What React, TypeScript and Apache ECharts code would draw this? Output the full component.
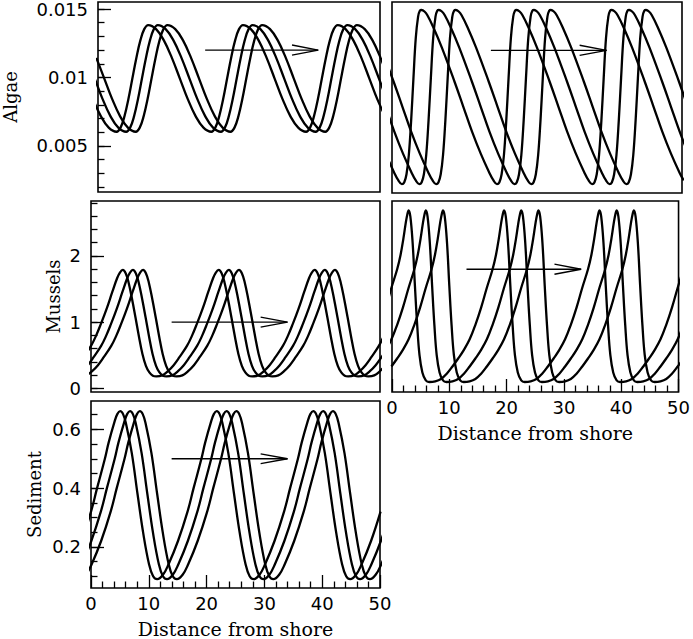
import React, { useEffect, useRef } from "react";
import * as echarts from "echarts";

type Pt = [number, number];

// ---- Leading curve (earliest) of each panel: [distance, value]
const algaeLeft: Pt[] = [
  [-3.7, 0.01143], [-2.3, 0.00994], [-0.9, 0.00844], [0.5, 0.00718], [1.9, 0.00634], [3.3, 0.00604],
  [4.0, 0.00634], [4.7, 0.00718], [5.4, 0.00844], [6.1, 0.00994], [6.8, 0.01143], [7.5, 0.01269], [8.2, 0.01353], [8.9, 0.01383],
  [10.3, 0.01353], [11.7, 0.01269], [13.1, 0.01143], [14.5, 0.00994], [15.9, 0.00844], [17.3, 0.00718], [18.7, 0.00634], [20.1, 0.00604],
  [20.8, 0.00634], [21.5, 0.00718], [22.2, 0.00844], [22.9, 0.00994], [23.6, 0.01143], [24.3, 0.01269], [25.0, 0.01353], [25.7, 0.01383],
  [27.1, 0.01353], [28.5, 0.01269], [29.9, 0.01143], [31.3, 0.00994], [32.7, 0.00844], [34.1, 0.00718], [35.5, 0.00634], [36.9, 0.00604],
  [37.6, 0.00634], [38.3, 0.00718], [39.0, 0.00844], [39.7, 0.00994], [40.4, 0.01143], [41.1, 0.01269], [41.8, 0.01353], [42.5, 0.01383],
  [43.9, 0.01353], [45.3, 0.01269], [46.7, 0.01143], [48.1, 0.00994], [49.5, 0.00844], [50.9, 0.00718],
];
const algaeLeftShifts = [0, 1.7, 3.4];

const algaeRight: Pt[] = [
  [-7.8, 0.0122], [-5.6, 0.0097], [-4.1, 0.0079], [-2.6, 0.0061], [-1.1, 0.0045], [0.4, 0.0031], [1.1, 0.00255], [1.7, 0.00228],
  [2.1, 0.0024], [2.5, 0.003], [2.9, 0.0044], [3.3, 0.0069], [3.7, 0.01], [4.1, 0.0129], [4.5, 0.01445], [4.8, 0.01487], [5.1, 0.01493],
  [5.6, 0.01482], [6.1, 0.01455], [7.1, 0.0137], [8.6, 0.0122], [10.8, 0.0097], [12.3, 0.0079], [13.8, 0.0061], [15.3, 0.0045], [16.8, 0.0031], [17.5, 0.00255], [18.1, 0.00228],
  [18.5, 0.0024], [18.9, 0.003], [19.3, 0.0044], [19.7, 0.0069], [20.1, 0.01], [20.5, 0.0129], [20.9, 0.01445], [21.2, 0.01487], [21.5, 0.01493],
  [22.0, 0.01482], [22.5, 0.01455], [23.5, 0.0137], [25.0, 0.0122], [27.2, 0.0097], [28.7, 0.0079], [30.2, 0.0061], [31.7, 0.0045], [33.2, 0.0031], [33.9, 0.00255], [34.5, 0.00228],
  [34.9, 0.0024], [35.3, 0.003], [35.7, 0.0044], [36.1, 0.0069], [36.5, 0.01], [36.9, 0.0129], [37.3, 0.01445], [37.6, 0.01487], [37.9, 0.01493],
  [38.4, 0.01482], [38.9, 0.01455], [39.9, 0.0137], [41.4, 0.0122], [43.6, 0.0097], [45.1, 0.0079], [46.6, 0.0061], [48.1, 0.0045], [49.6, 0.0031], [50.3, 0.00255],
];
const algaeRightShifts = [0, 3.0, 5.9];

const musselsLeft: Pt[] = [
  [-4.3, 0.195], [-3.3, 0.26], [-2.3, 0.35], [-1.3, 0.47], [0.0, 0.64], [0.9, 0.8], [1.7, 0.97], [2.7, 1.2], [3.7, 1.46], [4.5, 1.66], [5.0, 1.75], [5.5, 1.79],
  [6.0, 1.74], [6.5, 1.6], [7.1, 1.35], [7.7, 1.07], [8.3, 0.78], [8.9, 0.52], [9.5, 0.34], [10.1, 0.24], [10.7, 0.19], [11.3, 0.18],
  [12.3, 0.195], [13.3, 0.26], [14.3, 0.35], [15.3, 0.47], [16.6, 0.64], [17.5, 0.8], [18.3, 0.97], [19.3, 1.2], [20.3, 1.46], [21.1, 1.66], [21.6, 1.75], [22.1, 1.79],
  [22.6, 1.74], [23.1, 1.6], [23.7, 1.35], [24.3, 1.07], [24.9, 0.78], [25.5, 0.52], [26.1, 0.34], [26.7, 0.24], [27.3, 0.19], [27.9, 0.18],
  [28.9, 0.195], [29.9, 0.26], [30.9, 0.35], [31.9, 0.47], [33.2, 0.64], [34.1, 0.8], [34.9, 0.97], [35.9, 1.2], [36.9, 1.46], [37.7, 1.66], [38.2, 1.75], [38.7, 1.79],
  [39.2, 1.74], [39.7, 1.6], [40.3, 1.35], [40.9, 1.07], [41.5, 0.78], [42.1, 0.52], [42.7, 0.34], [43.3, 0.24], [43.9, 0.19], [44.5, 0.18],
  [45.5, 0.195], [46.5, 0.26], [47.5, 0.35], [48.5, 0.47], [49.8, 0.64], [50.7, 0.8],
];
const musselsLeftShifts = [0, 1.75, 3.5];

const musselsRight: Pt[] = [
  [-6.1, 0.33], [-5.1, 0.45], [-4.1, 0.58], [-3.1, 0.74], [-2.1, 0.96], [-1.1, 1.22], [-0.1, 1.52], [0.9, 1.8], [1.5, 2.02], [2.0, 2.27], [2.4, 2.5], [2.7, 2.64], [2.9, 2.69],
  [3.2, 2.6], [3.6, 2.2], [4.0, 1.55], [4.4, 0.95], [4.8, 0.5], [5.3, 0.24], [5.9, 0.12], [6.5, 0.095],
  [7.55, 0.105], [8.55, 0.14], [9.55, 0.22], [10.55, 0.33], [11.55, 0.45], [12.55, 0.58], [13.55, 0.74], [14.55, 0.96], [15.55, 1.22], [16.55, 1.52], [17.55, 1.8], [18.15, 2.02], [18.65, 2.27], [19.05, 2.5], [19.35, 2.64], [19.55, 2.69],
  [19.85, 2.6], [20.25, 2.2], [20.65, 1.55], [21.05, 0.95], [21.45, 0.5], [21.95, 0.24], [22.55, 0.12], [23.15, 0.095],
  [24.2, 0.105], [25.2, 0.14], [26.2, 0.22], [27.2, 0.33], [28.2, 0.45], [29.2, 0.58], [30.2, 0.74], [31.2, 0.96], [32.2, 1.22], [33.2, 1.52], [34.2, 1.8], [34.8, 2.02], [35.3, 2.27], [35.7, 2.5], [36.0, 2.64], [36.2, 2.69],
  [36.5, 2.6], [36.9, 2.2], [37.3, 1.55], [37.7, 0.95], [38.1, 0.5], [38.6, 0.24], [39.2, 0.12], [39.8, 0.095],
  [40.85, 0.105], [41.85, 0.14], [42.85, 0.22], [43.85, 0.33], [44.85, 0.45], [45.85, 0.58], [46.85, 0.74], [47.85, 0.96], [48.85, 1.22], [49.85, 1.52], [50.85, 1.8],
];
const musselsRightShifts = [0, 3.0, 6.0];

const sediment: Pt[] = [
  [-4.25, 0.105], [-3.3, 0.14], [-1.65, 0.22], [0.0, 0.32], [1.05, 0.4], [2.4, 0.5], [3.05, 0.555], [4.05, 0.625], [4.55, 0.652], [5.05, 0.662],
  [5.55, 0.652], [6.05, 0.62], [7.05, 0.52], [8.05, 0.38], [9.05, 0.245], [10.05, 0.14], [10.75, 0.1], [11.45, 0.09],
  [12.45, 0.105], [13.4, 0.14], [15.05, 0.22], [16.7, 0.32], [17.75, 0.4], [19.1, 0.5], [19.75, 0.555], [20.75, 0.625], [21.25, 0.652], [21.75, 0.662],
  [22.25, 0.652], [22.75, 0.62], [23.75, 0.52], [24.75, 0.38], [25.75, 0.245], [26.75, 0.14], [27.45, 0.1], [28.15, 0.09],
  [29.15, 0.105], [30.1, 0.14], [31.75, 0.22], [33.4, 0.32], [34.45, 0.4], [35.8, 0.5], [36.45, 0.555], [37.45, 0.625], [37.95, 0.652], [38.45, 0.662],
  [38.95, 0.652], [39.45, 0.62], [40.45, 0.52], [41.45, 0.38], [42.45, 0.245], [43.45, 0.14], [44.15, 0.1], [44.85, 0.09],
  [45.85, 0.105], [46.8, 0.14], [48.45, 0.22], [50.1, 0.32],
];
const sedimentShifts = [0, 1.7, 3.4];

// ---- Arrows (shaft and open head), in data coordinates
const algaeLeftArrow: Pt[][] = [[[19.0, 0.012], [39.05, 0.012]], [[34.4, 0.01237], [39.05, 0.012], [34.4, 0.01163]]];
const algaeRightArrow: Pt[][] = [[[17.05, 0.012], [37.0, 0.012]], [[32.35, 0.01237], [37.0, 0.012], [32.35, 0.01163]]];
const musselsLeftArrow: Pt[][] = [[[13.95, 1.0], [34.0, 1.0]], [[29.35, 1.076], [34.0, 1.0], [29.35, 0.924]]];
const musselsRightArrow: Pt[][] = [[[13.0, 1.8], [33.0, 1.8]], [[28.35, 1.876], [33.0, 1.8], [28.35, 1.724]]];
const sedimentArrow: Pt[][] = [[[13.95, 0.5], [34.0, 0.5]], [[29.35, 0.5167], [34.0, 0.5], [29.35, 0.4833]]];

// ---- Axes ticks
const xRange = [0, 50];
const algaeRange = [0.00164, 0.01551];
const musselsRange = [-0.056, 2.831];
const sedimentRange = [0.06, 0.6967];
const algaeMajor = [0.005, 0.01, 0.015];
const algaeMinor = [0.002, 0.003, 0.004, 0.005, 0.006, 0.007, 0.008, 0.009, 0.01, 0.011, 0.012, 0.013, 0.014, 0.015];
const musselsMajor = [0, 1, 2];
const musselsMinor = [0, 0.2, 0.4, 0.6, 0.8, 1, 1.2, 1.4, 1.6, 1.8, 2, 2.2, 2.4, 2.6, 2.8];
const sedimentMajor = [0.2, 0.4, 0.6];
const sedimentMinor = [0.1, 0.15, 0.2, 0.25, 0.3, 0.35, 0.4, 0.45, 0.5, 0.55, 0.6, 0.65];

const SERIF = '"DejaVu Serif", serif';
const LABEL = '"DejaVu Sans", sans-serif';
const BLACK = "#000";

function buildOption() {
  const gridRects = [
    { left: 91, top: 2, width: 289, height: 190 },
    { left: 392, top: 2, width: 290, height: 191 },
    { left: 91, top: 201, width: 289, height: 191 },
    { left: 392, top: 201, width: 290, height: 191 },
    { left: 91, top: 401, width: 289, height: 191 },
  ];
  const grid = gridRects.map((g) => ({
    ...g,
    show: true,
    borderColor: BLACK,
    borderWidth: 1.6,
    backgroundColor: "transparent",
  }));

  const xAxisFor = (gridIndex: number, bottom: boolean) => ({
    type: "value",
    gridIndex,
    min: xRange[0],
    max: xRange[1],
    interval: 10,
    axisLine: { show: false, onZero: false },
    splitLine: { show: false },
    axisTick: { show: bottom, inside: true, length: 13, lineStyle: { color: BLACK, width: 1.3 } },
    minorTick: { show: bottom, splitNumber: 5, length: 6.5, lineStyle: { color: BLACK, width: 1.3 } },
    axisLabel: { show: bottom, margin: 6, fontSize: 18, fontFamily: LABEL, color: BLACK },
    name: bottom ? "Distance from shore" : "",
    nameLocation: "middle",
    nameGap: 31,
    nameTextStyle: { fontFamily: SERIF, fontSize: 19, color: BLACK },
  });

  const yMain = (gridIndex: number, range: number[], major: number[], name: string, nameGap: number) => ({
    type: "value",
    gridIndex,
    position: "left",
    min: range[0],
    max: range[1],
    axisLine: { show: false, onZero: false },
    splitLine: { show: false },
    axisTick: { show: true, inside: true, length: 13, customValues: major, lineStyle: { color: BLACK, width: 1.3 } },
    axisLabel: { show: true, customValues: major, margin: 10, fontSize: 18, fontFamily: LABEL, color: BLACK },
    name,
    nameLocation: "middle",
    nameGap,
    nameTextStyle: { fontFamily: SERIF, fontSize: 18, color: BLACK },
  });
  const yMinor = (gridIndex: number, range: number[], minor: number[]) => ({
    type: "value",
    gridIndex,
    position: "left",
    offset: 0,
    min: range[0],
    max: range[1],
    axisLine: { show: false, onZero: false },
    splitLine: { show: false },
    axisTick: { show: true, inside: true, length: 6.5, customValues: minor, lineStyle: { color: BLACK, width: 1.3 } },
    axisLabel: { show: false },
  });
  const yBare = (gridIndex: number, range: number[]) => ({
    type: "value",
    gridIndex,
    position: "left",
    min: range[0],
    max: range[1],
    axisLine: { show: false, onZero: false },
    splitLine: { show: false },
    axisTick: { show: false },
    axisLabel: { show: false },
  });

  const xAxis = [
    xAxisFor(0, false),
    xAxisFor(1, false),
    xAxisFor(2, false),
    xAxisFor(3, true),
    xAxisFor(4, true),
  ];
  const yAxis = [
    yMain(0, algaeRange, algaeMajor, "Algae", 79), // 0
    yMinor(0, algaeRange, algaeMinor), // 1
    yBare(1, algaeRange), // 2
    yMain(2, musselsRange, musselsMajor, "Mussels", 29), // 3
    yMinor(2, musselsRange, musselsMinor), // 4
    yBare(3, musselsRange), // 5
    yMain(4, sedimentRange, sedimentMajor, "Sediment", 48), // 6
    yMinor(4, sedimentRange, sedimentMinor), // 7
  ];

  const curves = (data: Pt[], shifts: number[], xi: number, yi: number) =>
    shifts.map((s) => ({
      type: "line",
      xAxisIndex: xi,
      yAxisIndex: yi,
      data: data.map(([x, y]) => [x + s, y]),
      symbol: "none",
      showSymbol: false,
      smooth: 0.4,
      clip: true,
      silent: true,
      lineStyle: { color: BLACK, width: 2.3, join: "round" },
    }));
  const arrow = (parts: Pt[][], xi: number, yi: number) =>
    parts.map((p) => ({
      type: "line",
      xAxisIndex: xi,
      yAxisIndex: yi,
      data: p,
      symbol: "none",
      showSymbol: false,
      clip: true,
      silent: true,
      lineStyle: { color: BLACK, width: 1.4 },
    }));

  const series = [
    ...curves(algaeLeft, algaeLeftShifts, 0, 0),
    ...arrow(algaeLeftArrow, 0, 0),
    ...curves(algaeRight, algaeRightShifts, 1, 2),
    ...arrow(algaeRightArrow, 1, 2),
    ...curves(musselsLeft, musselsLeftShifts, 2, 3),
    ...arrow(musselsLeftArrow, 2, 3),
    ...curves(musselsRight, musselsRightShifts, 3, 5),
    ...arrow(musselsRightArrow, 3, 5),
    ...curves(sediment, sedimentShifts, 4, 6),
    ...arrow(sedimentArrow, 4, 6),
  ];

  return {
    animation: false,
    backgroundColor: "#fff",
    grid,
    xAxis,
    yAxis,
    series,
  };
}

export default function App() {
  const ref = useRef<HTMLDivElement>(null);
  useEffect(() => {
    if (!ref.current) return;
    const chart = echarts.init(ref.current, undefined, { renderer: "svg" });
    chart.setOption(buildOption() as any);
    return () => chart.dispose();
  }, []);
  return (
    <div
      ref={ref}
      style={{ position: "fixed", left: 0, top: 0, width: 693, height: 639, background: "#fff" }}
    />
  );
}
